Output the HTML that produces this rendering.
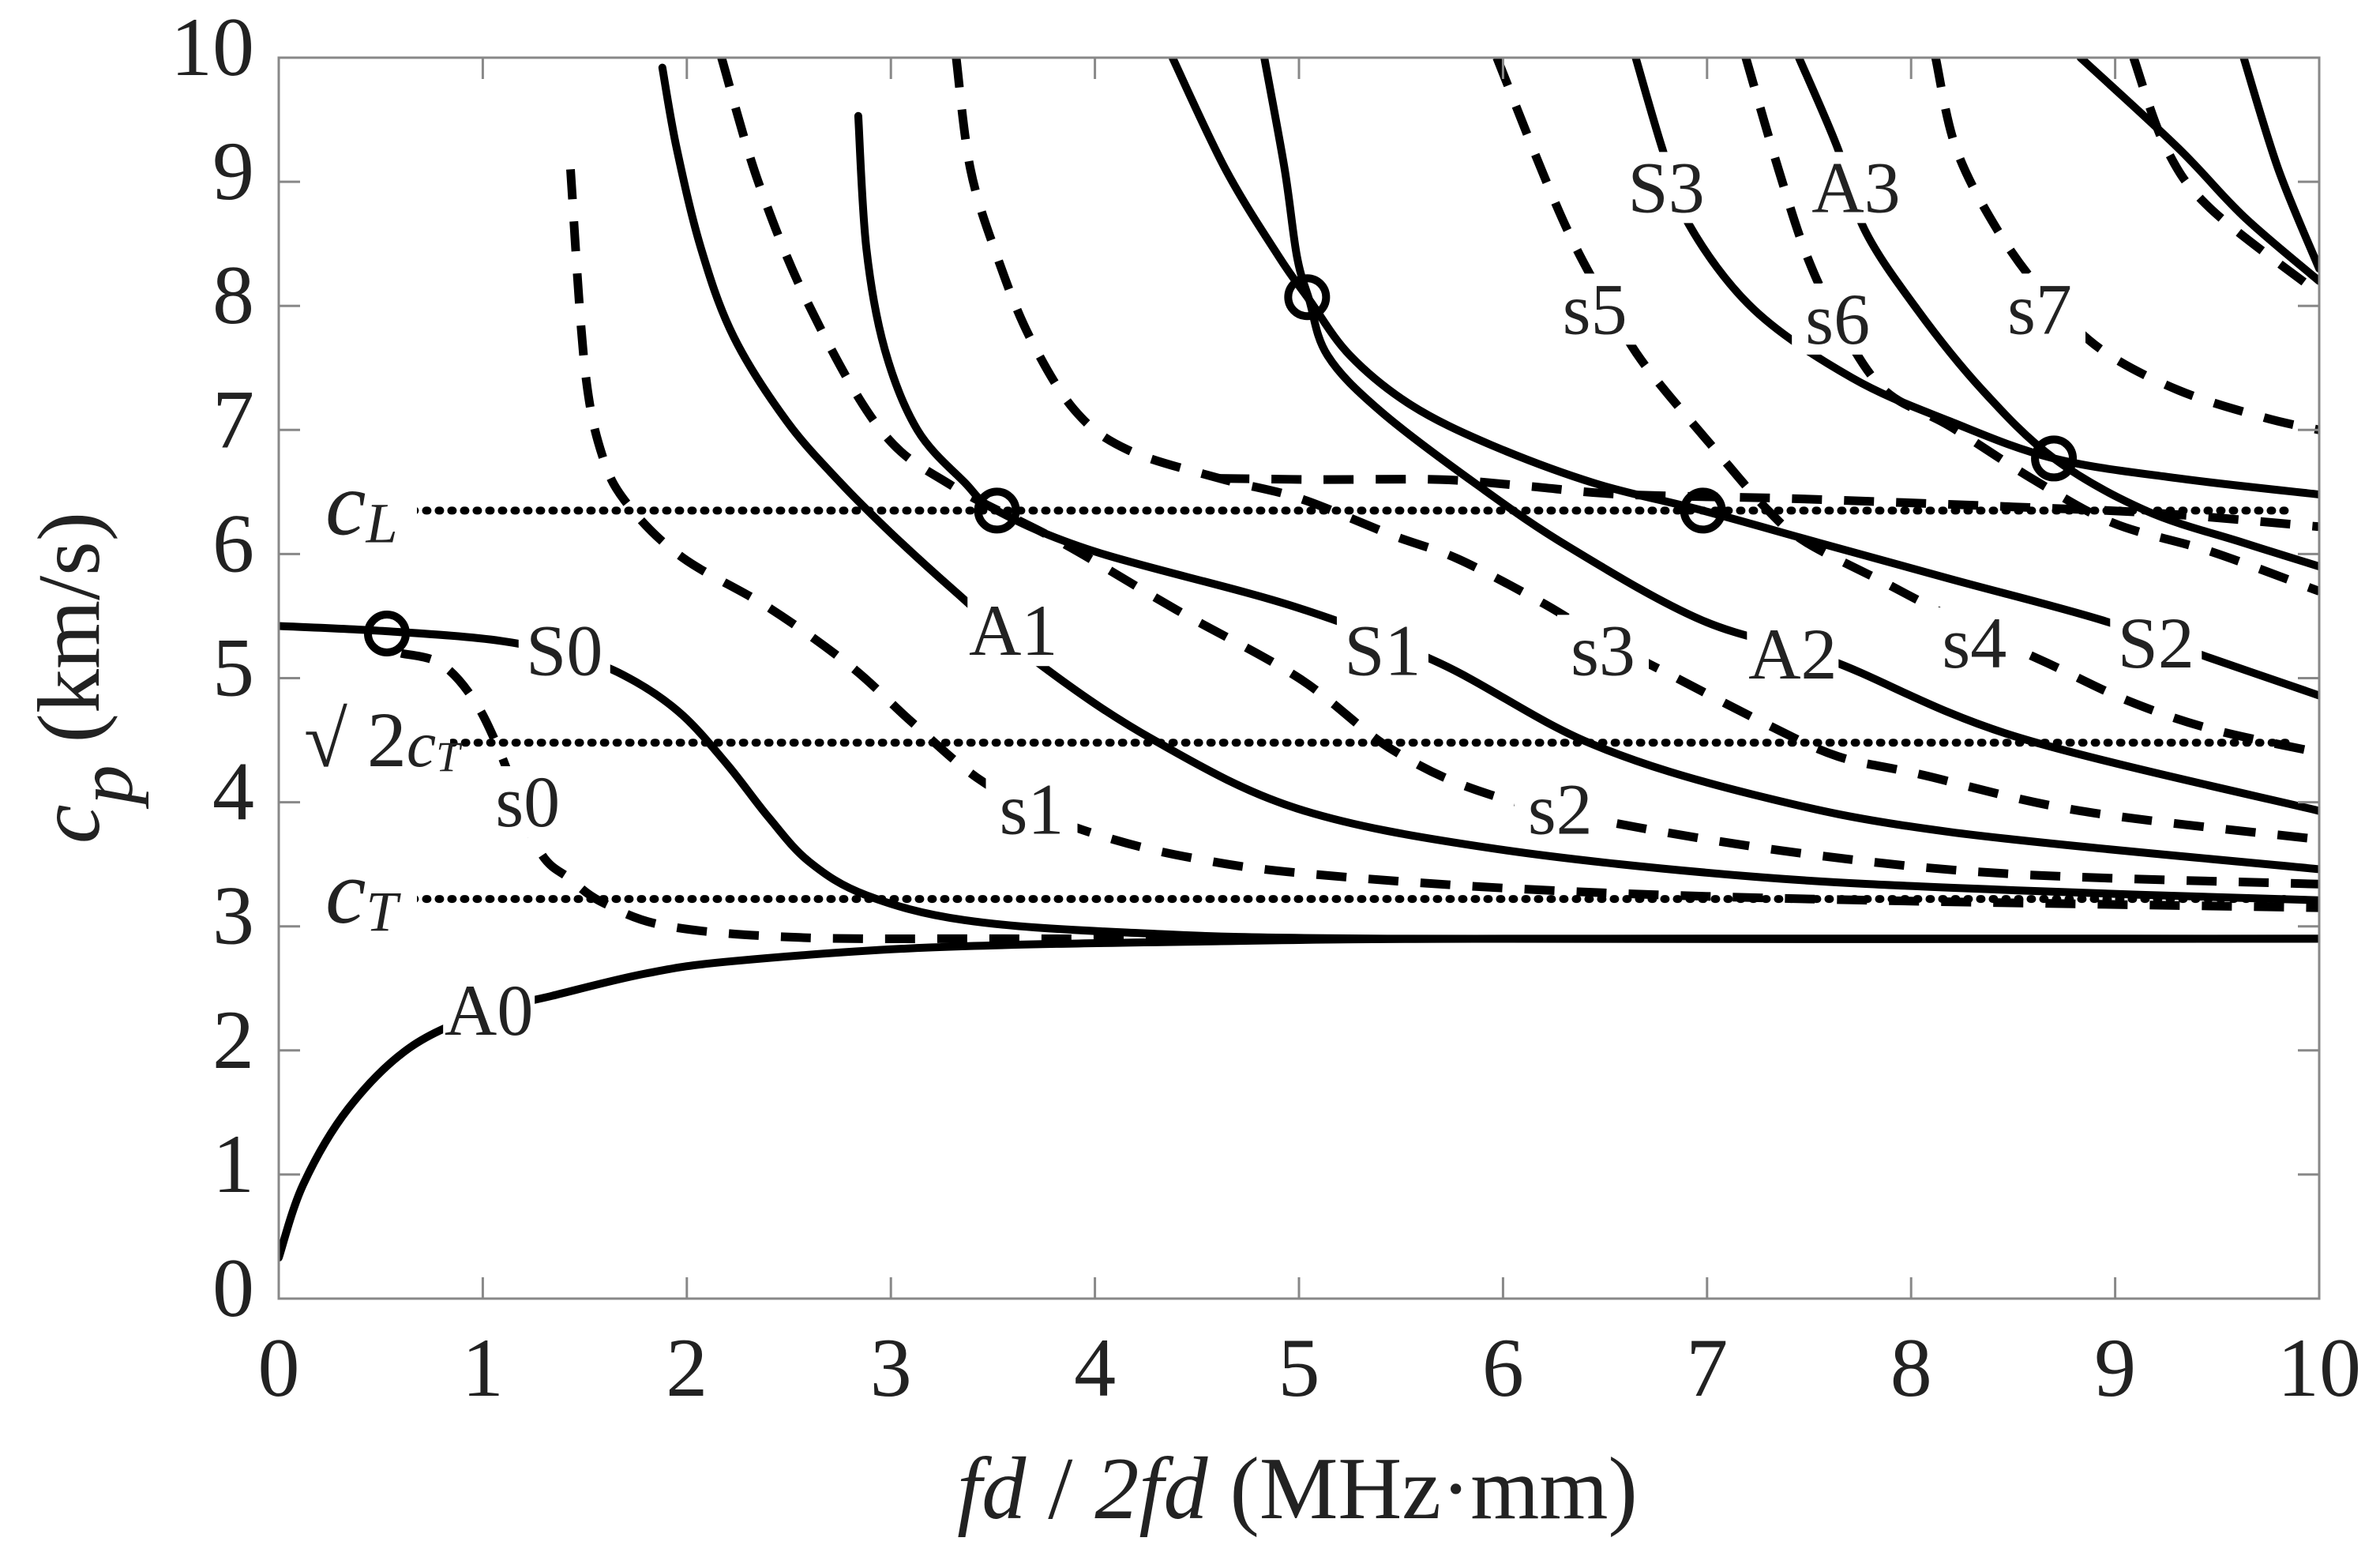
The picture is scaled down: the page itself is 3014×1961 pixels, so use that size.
<!DOCTYPE html>
<html><head><meta charset="utf-8"><style>
html,body{margin:0;padding:0;background:#fff;}
svg{display:block;}
text{font-family:"Liberation Serif",serif;fill:#222;}
</style></head><body>
<svg id="chart" width="3014" height="1961" viewBox="0 0 3014 1961" xmlns="http://www.w3.org/2000/svg">
<rect x="0" y="0" width="3014" height="1961" fill="#fff"/>
<g id="curves"></g>
<g id="refs"></g>
<g id="marks"></g>
<g id="labels"></g>
<g id="axes"></g>
<text x="1643" y="1922" text-anchor="middle" font-size="112"><tspan font-style="italic">fd</tspan> / <tspan font-style="italic">2fd</tspan> (MHz·mm)</text>
<g transform="translate(125,858) rotate(-90)">
<text x="0" y="0" text-anchor="middle" font-size="112"><tspan font-style="italic">c</tspan><tspan font-style="italic" font-size="100" dy="42">p</tspan><tspan dy="-42"> (km/s)</tspan></text>
</g>
</svg>
<script>
// ---- data ----
const xTicks = [0,1,2,3,4,5,6,7,8,9,10];
const yTicks = [0,1,2,3,4,5,6,7,8,9,10];
const xDomain = [0,10];
const yDomain = [0,10];

// solid (Lamb) curves: [fd, cp]
const A0 = [[0,0.33],[0.12,0.92],[0.34,1.53],[0.64,2.02],[1.0,2.3],[1.34,2.44],[1.8,2.62],[2.23,2.72],[3.2,2.83],[4.6,2.88],[6,2.9],[10,2.9]];
const S0 = [[0,5.42],[0.51,5.38],[1.09,5.3],[1.5,5.15],[1.75,4.97],[1.98,4.7],[2.2,4.3],[2.4,3.88],[2.6,3.52],[2.88,3.25],[3.36,3.05],[4.16,2.95],[5.5,2.9],[10,2.9]];
const A1 = [[1.88,9.92],[1.95,9.27],[2.07,8.46],[2.23,7.75],[2.49,7.07],[2.75,6.58],[3.0,6.17],[3.3,5.72],[3.74,5.1],[4.29,4.5],[4.99,3.95],[5.94,3.63],[7.23,3.40],[8.51,3.29],[10,3.21]];
const S1 = [[2.84,9.53],[2.88,8.46],[2.97,7.65],[3.13,7.0],[3.36,6.58],[3.52,6.35],[4.0,6.02],[4.99,5.57],[5.69,5.12],[6.42,4.48],[7.23,4.06],[8.19,3.76],[10,3.46]];
const A2 = [[4.83,10],[4.93,9.1],[4.99,8.4],[5.05,8.05],[5.14,7.6],[5.4,7.15],[5.88,6.55],[6.33,6.05],[6.97,5.47],[7.61,5.14],[8.51,4.53],[10,3.93]];
const S2 = [[4.38,10],[4.64,9.1],[4.9,8.4],[5.05,8.05],[5.25,7.6],[5.55,7.2],[5.94,6.88],[6.45,6.57],[6.98,6.35],[7.55,6.09],[8.19,5.8],[8.93,5.47],[9.47,5.16],[10,4.86]];
const S3 = [[6.65,10],[6.78,9.27],[6.91,8.66],[7.23,7.97],[7.71,7.42],[8.19,7.07],[8.7,6.77],[9.31,6.61],[10,6.48]];
const A3 = [[7.45,10],[7.64,9.27],[7.77,8.62],[8.03,7.97],[8.35,7.32],[8.7,6.77],[9.15,6.35],[9.63,6.09],[10,5.9]];
const S4 = [[8.83,10],[9.31,9.27],[9.63,8.72],[10,8.2]];
const A4 = [[9.63,10],[9.8,9.1],[10,8.3]];

// dashed (SH) curves
const s0 = [[0.6,5.2],[0.79,5.12],[0.95,4.84],[1.08,4.42],[1.27,3.63],[1.43,3.38],[1.59,3.19],[1.91,3.0],[2.55,2.91],[3.5,2.9],[4.8,2.9]];
const s1 = [[1.43,9.1],[1.5,7.5],[1.59,6.77],[1.72,6.38],[1.98,5.97],[2.4,5.57],[2.8,5.1],[3.1,4.65],[3.42,4.2],[3.75,3.9],[4.09,3.70],[4.48,3.55],[5,3.43],[6.1,3.3],[7.5,3.22],[10,3.15]];
const s2 = [[2.17,10],[2.35,9.0],[2.6,8.0],[2.95,7.0],[3.3,6.55],[3.84,6.09],[4.4,5.55],[5.0,5.0],[5.46,4.42],[5.94,4.06],[6.65,3.8],[7.55,3.57],[8.51,3.42],[10,3.34]];
const s3 = [[3.32,10],[3.39,9.1],[3.52,8.4],[3.68,7.75],[3.9,7.16],[4.16,6.84],[4.61,6.61],[5.0,6.45],[5.46,6.15],[5.78,5.96],[6.2,5.6],[6.5,5.3],[6.84,5.01],[7.29,4.63],[7.64,4.37],[8.03,4.23],[8.83,3.93],[10,3.70]];
const sL = [[4.61,6.61],[5.1,6.6],[5.69,6.6],[6.1,6.55],[6.59,6.48],[7.35,6.45],[7.87,6.42],[8.5,6.38],[9.2,6.33],[10,6.22]];
const s5 = [[5.97,10],[6.2,9.05],[6.36,8.46],[6.55,7.9],[6.71,7.49],[7.04,6.84],[7.3,6.35],[7.49,6.09],[7.87,5.77],[8.3,5.4],[8.67,5.12],[9.06,4.82],[9.47,4.59],[10,4.40]];
const s6 = [[7.19,10],[7.35,9.1],[7.49,8.4],[7.65,7.85],[7.87,7.32],[8.19,7.03],[8.6,6.6],[8.99,6.25],[9.47,6.02],[10,5.7]];
const s7 = [[8.12,10],[8.22,9.27],[8.42,8.62],[8.65,8.1],[8.93,7.65],[9.31,7.32],[9.73,7.1],[10,7.0]];
const s8 = [[9.09,10],[9.25,9.27],[9.47,8.78],[10,8.1]];

const solidCurves = [["A0",A0],["S0",S0],["A1",A1],["S1",S1],["A2",A2],["S2",S2],["S3",S3],["A3",A3],["S4",S4],["A4",A4]];
const dashedCurves = [["s0",s0],["s1",s1],["s2",s2],["s3",s3],["sL",sL],["s5",s5],["s6",s6],["s7",s7],["s8",s8]];

// reference velocities
const refNames = ["cL","sqrt2-cT","cT"];
const refValues = [6.35,4.48,3.22];
const refStart = [0.35,0.85,0.35];
const refEnd = [9.84,9.84,9.84];

// intersection points
const circleX = [0.53,3.52,5.04,6.98,8.7];
const circleY = [5.36,6.35,8.07,6.35,6.77];

// mode labels
const labelText = ["S0","A1","S1","s3","A2","s4","S2","S3","A3","s5","s6","s7","s0","s1","s2","A0"];
const labelX = [1.4,3.6,5.41,6.49,7.42,8.31,9.2,6.8,7.73,6.45,7.64,8.63,1.22,3.69,6.28,1.03];
const labelY = [5.23,5.39,5.23,5.23,5.2,5.29,5.29,8.96,8.96,7.98,7.9,7.98,4.01,3.95,3.95,2.33];

// ---- scales ----
const L=353, R=2937, T=73, B=1644;
const xs = v => L + (v - xDomain[0])/(xDomain[1]-xDomain[0])*(R-L);
const ys = v => B - (v - yDomain[0])/(yDomain[1]-yDomain[0])*(B-T);
const NS="http://www.w3.org/2000/svg";
function mk(tag, attrs){const e=document.createElementNS(NS,tag);for(const k in attrs)e.setAttribute(k,attrs[k]);return e;}
function pathFor(pts){
  const p = pts.map(d=>[xs(d[0]),ys(d[1])]);
  let s = "M"+p[0][0].toFixed(1)+","+p[0][1].toFixed(1);
  for(let i=0;i<p.length-1;i++){
    const p0=p[Math.max(0,i-1)],p1=p[i],p2=p[i+1],p3=p[Math.min(p.length-1,i+2)];
    const c1=[p1[0]+(p2[0]-p0[0])/6,p1[1]+(p2[1]-p0[1])/6];
    const c2=[p2[0]-(p3[0]-p1[0])/6,p2[1]-(p3[1]-p1[1])/6];
    s+=" C"+c1[0].toFixed(1)+","+c1[1].toFixed(1)+" "+c2[0].toFixed(1)+","+c2[1].toFixed(1)+" "+p2[0].toFixed(1)+","+p2[1].toFixed(1);
  }
  return s;
}
const gC=document.getElementById('curves');
const clip=mk('clipPath',{id:'plotclip'});clip.appendChild(mk('rect',{x:L,y:T,width:R-L,height:B-T}));
document.getElementById('chart').insertBefore(clip,gC);
gC.setAttribute('clip-path','url(#plotclip)');
dashedCurves.forEach(([n,pts])=>{
  const e=mk('path',{d:pathFor(pts),fill:'none',stroke:'#000','stroke-width':11,'stroke-dasharray':'38 28'});
  
  
  gC.appendChild(e);
});
solidCurves.forEach(([n,pts])=>{
  const e=mk('path',{d:pathFor(pts),fill:'none',stroke:'#000','stroke-width':10,'stroke-linecap':'round'});
  
  
  gC.appendChild(e);
});
// reference lines
const gR=document.getElementById('refs');
refValues.forEach((v,i)=>{
  const e=mk('line',{x1:xs(refStart[i]),x2:xs(refEnd[i]),y1:ys(v),y2:ys(v),stroke:'#000','stroke-width':10,'stroke-dasharray':'2 14','stroke-linecap':'round'});
  
  
  gR.appendChild(e);
});
function refLabel(x,y,w,name,build){
  const bg=mk('rect',{x:x-10,y:y-70,width:w,height:92,fill:'#fff'});
  
  
  gR.appendChild(bg);
  const t=mk('text',{x:x,y:y,'font-size':116,fill:'#000'});
  t.innerHTML=build;
  
  
  gR.appendChild(t);
}
refLabel(412,ys(6.35)+30,126,'cL-label','<tspan font-style="italic">c</tspan><tspan font-style="italic" font-size="72" dy="10">L</tspan>');
refLabel(385,ys(4.48)+30,195,'sqrt2-cT-label','<tspan font-size="100">√ 2</tspan><tspan font-style="italic" font-size="84">c</tspan><tspan font-style="italic" font-size="54" dy="6">T</tspan>');
refLabel(412,ys(3.22)+30,126,'cT-label','<tspan font-style="italic">c</tspan><tspan font-style="italic" font-size="72" dy="10">T</tspan>');
// circles
const gM=document.getElementById('marks');
circleX.forEach((cx,i)=>{
  const e=mk('circle',{cx:xs(cx),cy:ys(circleY[i]),r:24,fill:'none',stroke:'#000','stroke-width':10});
  
  
  gM.appendChild(e);
});
// mode labels
const gL=document.getElementById('labels');
labelText.forEach((t,i)=>{
  const w = t.length*48+20;
  const bg=mk('rect',{x:xs(labelX[i])-w/2,y:ys(labelY[i])-44,width:w,height:90,fill:'#fff'});
  
  
  gL.appendChild(bg);
  const e=mk('text',{x:xs(labelX[i]),y:ys(labelY[i])+32,'font-size':92,'text-anchor':'middle',fill:'#000'});
  e.textContent=t;
  
  
  gL.appendChild(e);
});
// axes
const gA=document.getElementById('axes');
const box=mk('rect',{x:L,y:T,width:R-L,height:B-T,fill:'none',stroke:'#888','stroke-width':3});


gA.appendChild(box);
xTicks.forEach(v=>{
  const x=xs(v);
  [[B,B-27],[T,T+27]].forEach(([a,b])=>{
    const tk=mk('line',{x1:x,x2:x,y1:a,y2:b,stroke:'#888','stroke-width':3});
    
    
    gA.appendChild(tk);
  });
  const t=mk('text',{x:x,y:1767,'font-size':106,'text-anchor':'middle'});
  t.textContent=String(v);
  
  
  gA.appendChild(t);
});
yTicks.forEach(v=>{
  const y=ys(v);
  [[L,L+27],[R,R-27]].forEach(([a,b])=>{
    const tk=mk('line',{x1:a,x2:b,y1:y,y2:y,stroke:'#888','stroke-width':3});
    
    
    gA.appendChild(tk);
  });
  const t=mk('text',{x:322,y:y+22,'font-size':106,'text-anchor':'end'});
  t.textContent=String(v);
  
  
  gA.appendChild(t);
});
</script>
</body></html>
